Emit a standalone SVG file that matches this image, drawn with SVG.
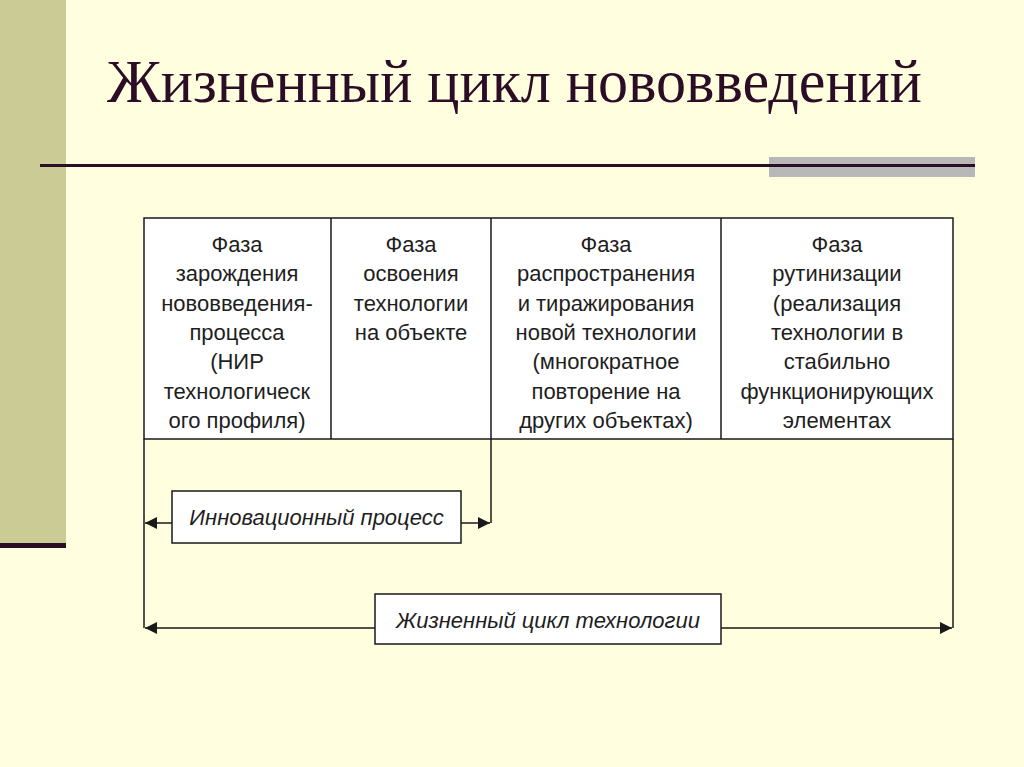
<svg xmlns="http://www.w3.org/2000/svg" width="1024" height="767" viewBox="0 0 1024 767">
<style>
.cell{font-family:"Liberation Sans",Arial,sans-serif;font-size:22px;fill:#1e1e1e;text-anchor:middle}
.lbl{font-family:"Liberation Sans",Arial,sans-serif;font-size:22px;font-style:italic;fill:#1e1e1e;text-anchor:middle}
.box{fill:#ffffff;stroke:#1a1a1a;stroke-width:1.5}
.con{fill:none;stroke:#1a1a1a;stroke-width:1.5}
</style>
<defs>
<marker id="ah" markerUnits="userSpaceOnUse" markerWidth="13" markerHeight="12" refX="12" refY="6" orient="auto">
<path d="M0,0 L12,6 L0,12 z" fill="#1a1a1a"/>
</marker>
<clipPath id="tclip"><rect x="144" y="218" width="809" height="217"/></clipPath>
</defs>
<rect x="0" y="0" width="1024" height="767" fill="#ffffe0"/>
<rect x="0" y="0" width="66" height="543" fill="#cbcb96"/>
<rect x="0" y="543" width="66" height="5" fill="#2b0d26"/>
<rect x="769" y="157" width="206" height="20" fill="#b8b8b8"/>
<rect x="40" y="164" width="935" height="3" fill="#2b0d26"/>
<text x="107" y="102" font-family="'Liberation Serif','Times New Roman',serif" font-size="61" fill="#2b0d26" textLength="815" lengthAdjust="spacingAndGlyphs">Жизненный цикл нововведений</text>

<g id="table">
<rect class="box" x="144" y="218" width="809" height="221"/>
<line class="con" x1="331" y1="218" x2="331" y2="439"/>
<line class="con" x1="491" y1="218" x2="491" y2="439"/>
<line class="con" x1="721" y1="218" x2="721" y2="439"/>
<g clip-path="url(#tclip)">
<g id="phase1" class="cell">
<text x="237" y="252" class="cell">Фаза</text>
<text x="237" y="281.3" class="cell">зарождения</text>
<text x="237" y="310.6" class="cell">нововведения-</text>
<text x="237" y="339.9" class="cell">процесса</text>
<text x="237" y="369.2" class="cell">(НИР</text>
<text x="237" y="398.5" class="cell">технологическ</text>
<text x="237" y="427.8" class="cell">ого профиля)</text>
</g>
<g id="phase2">
<text x="411" y="252" class="cell">Фаза</text>
<text x="411" y="281.3" class="cell">освоения</text>
<text x="411" y="310.6" class="cell">технологии</text>
<text x="411" y="339.9" class="cell">на объекте</text>
</g>
<g id="phase3">
<text x="606" y="252" class="cell">Фаза</text>
<text x="606" y="281.3" class="cell">распространения</text>
<text x="606" y="310.6" class="cell">и тиражирования</text>
<text x="606" y="339.9" class="cell">новой технологии</text>
<text x="606" y="369.2" class="cell">(многократное</text>
<text x="606" y="398.5" class="cell">повторение на</text>
<text x="606" y="427.8" class="cell">других объектах)</text>
</g>
<g id="phase4">
<text x="837" y="252" class="cell">Фаза</text>
<text x="837" y="281.3" class="cell">рутинизации</text>
<text x="837" y="310.6" class="cell">(реализация</text>
<text x="837" y="339.9" class="cell">технологии в</text>
<text x="837" y="369.2" class="cell">стабильно</text>
<text x="837" y="398.5" class="cell">функционирующих</text>
<text x="837" y="427.8" class="cell">элементах</text>
</g>
</g>
</g>

<g id="connectors">
<line class="con" x1="144" y1="439" x2="144" y2="628"/>
<line class="con" x1="491" y1="439" x2="491" y2="523"/>
<line class="con" x1="953" y1="439" x2="953" y2="628"/>
<line class="con" x1="172" y1="523" x2="145" y2="523" marker-end="url(#ah)"/>
<line class="con" x1="461" y1="523" x2="490" y2="523" marker-end="url(#ah)"/>
<line class="con" x1="375" y1="628" x2="145" y2="628" marker-end="url(#ah)"/>
<line class="con" x1="721" y1="628" x2="952" y2="628" marker-end="url(#ah)"/>
</g>

<g id="innov">
<rect class="box" x="172" y="491" width="289" height="52"/>
<text x="316.5" y="525" class="lbl">Инновационный процесс</text>
</g>
<g id="lifecycle">
<rect class="box" x="375" y="594" width="346" height="50"/>
<text x="548" y="628" class="lbl">Жизненный цикл технологии</text>
</g>
</svg>
